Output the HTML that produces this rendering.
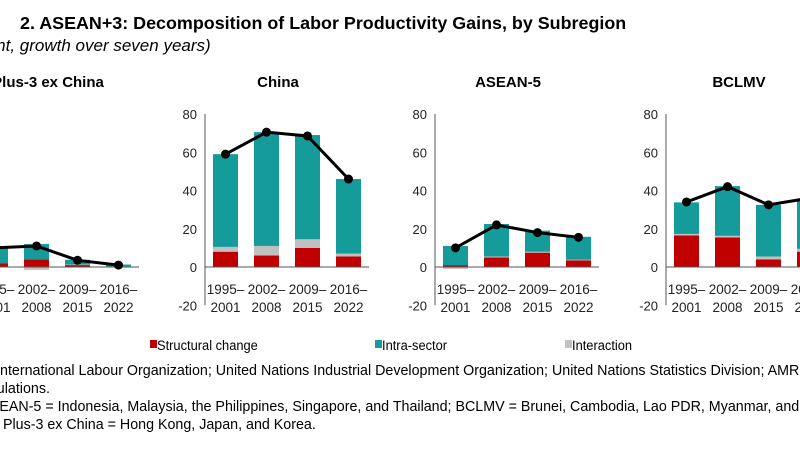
<!DOCTYPE html>
<html><head><meta charset="utf-8"><style>
html,body{margin:0;padding:0;background:#fff;width:800px;height:450px;overflow:hidden}
svg{display:block;font-family:"Liberation Sans",Arial,sans-serif}
</style></head><body>
<svg id="chart" width="800" height="450" viewBox="0 0 800 450">
<text x="20" y="29" font-size="17.9" font-weight="bold" fill="#000">2. ASEAN+3: Decomposition of Labor Productivity Gains, by Subregion</text>
<text x="-52" y="51" font-size="17" font-style="italic" fill="#000">(percent, growth over seven years)</text>
<g id="panels"></g>
<g font-size="14" fill="#000">
<rect x="150" y="340" width="7" height="8" fill="#c00000"/><text x="157" y="350" transform="translate(157,0) scale(0.92,1) translate(-157,0)">Structural change</text>
<rect x="375" y="340" width="7" height="8" fill="#169b9b"/><text x="382" y="350" transform="translate(382,0) scale(0.92,1) translate(-382,0)">Intra-sector</text>
<rect x="565" y="340" width="7" height="8" fill="#c0c0c0"/><text x="572" y="350" transform="translate(572,0) scale(0.92,1) translate(-572,0)">Interaction</text>
</g>
<g font-size="14.5" fill="#000" transform="scale(0.985,1)">
<text x="-4" y="375">International Labour Organization; United Nations Industrial Development Organization; United Nations Statistics Division; AMRO staff</text>
<text x="-29" y="393">calculations.</text>
<text x="-20" y="411">ASEAN-5 = Indonesia, Malaysia, the Philippines, Singapore, and Thailand; BCLMV = Brunei, Cambodia, Lao PDR, Myanmar, and Vietnam;</text>
<text x="3" y="429">Plus-3 ex China = Hong Kong, Japan, and Korea.</text>
</g>
</svg>
<script>
const panelTitles = ["Plus-3 ex China","China","ASEAN-5","BCLMV"];
const categories = [["1995–","2001"],["2002–","2008"],["2009–","2015"],["2016–","2022"]];
const structural = [[2,4,1,0.3],[8,6,10,5.5],[1,5,7.5,3.5],[16.5,15.5,4,8]];
const interaction = [[0,-1.5,0.3,0],[2.5,5,4.5,1.5],[-1,0.5,0.5,0.3],[0.8,0.8,1.5,1.5]];
const intraSector = [[8,8,2.5,1],[48.5,59.5,54.5,39],[10,17,11,12],[16.5,26,27,25.5]];
const totals = [[10,11,3.5,1],[59,70.5,68.5,46],[10,22,18,15.5],[34,42,32.5,36]];
const yTicks = [80,60,40,20,0,-20];

const NS="http://www.w3.org/2000/svg";
const root=document.getElementById('panels');
const axisX=[-25,205,435,666];
function y(v){return 267 - v*1.9125;}
function mk(tag,attrs,parent){const e=document.createElementNS(NS,tag);for(const k in attrs)e.setAttribute(k,attrs[k]);parent.appendChild(e);return e;}
panelTitles.forEach((t,p)=>{
  const ax=axisX[p];
  const g=mk('g',{},root);
  
  
  const tt=mk('text',{x:ax+73,y:87,'text-anchor':'middle','font-size':'15','font-weight':'bold',fill:'#000'},g);
  tt.textContent=t;
  
  
  yTicks.forEach(v=>{
    const tx=mk('text',{x:ax-8,y:y(v)+5,'text-anchor':'end','font-size':'13',fill:'#222'},g);
    tx.textContent=v;
    
    
  });
  const bw=25, pitch=41;
  categories.forEach((c,i)=>{
    const bx=ax+8+i*pitch;
    const s=structural[p][i], it=interaction[p][i], ins=intraSector[p][i];
    let pos=0,neg=0;
    [[s,'#c00000','bar-structural'],[it,'#c0c0c0','bar-interaction'],[ins,'#169b9b','bar-intra-sector']].forEach(([v,col,nm])=>{
      let y0,y1;
      if(v>=0){y0=pos;y1=pos+v;pos=y1;}else{y0=neg+v;y1=neg;neg=y0;}
      const r=mk('rect',{x:bx,y:y(y1),width:bw,height:Math.max(0,y(y0)-y(y1)),fill:col},g);
      
      
    });
    c.forEach((line,k)=>{
      const tx=mk('text',{x:bx+bw/2,y:294+k*18,'text-anchor':'middle','font-size':'13.5',fill:'#222'},g);
      tx.textContent=line;
      
      
    });
  });
  const al=mk('line',{x1:ax,y1:y(80),x2:ax,y2:y(-20),stroke:'#555','stroke-width':1},g);
  
  
  const zl=mk('line',{x1:ax,y1:y(0),x2:ax+164,y2:y(0),stroke:'#555','stroke-width':1},g);
  
  
  const pts=totals[p].map((v,i)=>[ax+8+i*pitch+bw/2,y(v)]);
  const pl=mk('polyline',{points:pts.map(q=>q.join(',')).join(' '),fill:'none',stroke:'#000','stroke-width':3},g);
  
  
  pts.forEach(q=>{
    const c=mk('circle',{cx:q[0],cy:q[1],r:4.5,fill:'#000'},g);
    
    
  });
});
</script>
</body></html>
